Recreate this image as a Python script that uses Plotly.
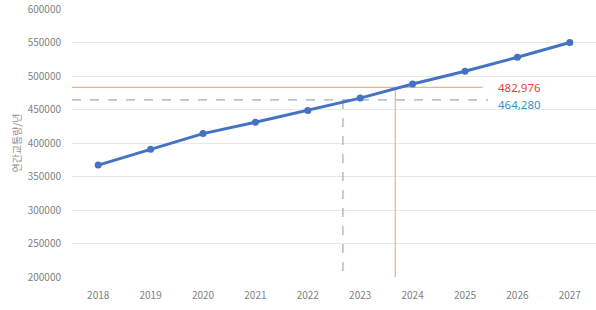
import plotly.graph_objects as go

years = [2018, 2019, 2020, 2021, 2022, 2023, 2024, 2025, 2026, 2027]
volumes = [367000, 390500, 414000, 431000, 448500, 467000, 488000, 507000, 528000, 550000]

ref_values = [482976, 464280]
ref_labels = ["482,976", "464,280"]
ref_cross_years = [2023.67, 2022.67]
ref_line_end = [2025.34, 2025.44]
ref_colors = ["#f4b183", "#9aaac4"]
ref_text_colors = ["#e8413c", "#3d8fcc"]
ref_dash = ["solid", "dash"]

y_title = "연간교통량/년"
y_ticks = [200000, 250000, 300000, 350000, 400000, 450000, 500000, 550000, 600000]

fig = go.Figure()

for v, cx, xe, c, d in zip(ref_values, ref_cross_years, ref_line_end, ref_colors, ref_dash):
    fig.add_trace(go.Scatter(x=[2017.5, xe], y=[v, v], mode="lines",
                             line=dict(color=c, width=1.2, dash=d), hoverinfo="skip", showlegend=False))
    fig.add_trace(go.Scatter(x=[cx, cx], y=[v, 200000], mode="lines",
                             line=dict(color=c, width=1.2, dash=d), hoverinfo="skip", showlegend=False))

fig.add_trace(go.Scatter(x=years, y=volumes, mode="lines+markers",
                         line=dict(color="#4472c4", width=3),
                         marker=dict(color="#4472c4", size=7), showlegend=False))

for v, lab, tc, yshift in zip(ref_values, ref_labels, ref_text_colors, [0, -5]):
    fig.add_annotation(x=2025.6, y=v, text=lab, showarrow=False, xanchor="left",
                       yanchor="middle", yshift=yshift,
                       font=dict(color=tc, size=11.5, family="Noto Sans, sans-serif"))

fig.update_layout(
    width=596, height=310,
    margin=dict(l=72, r=0, t=9, b=33),
    paper_bgcolor="white", plot_bgcolor="white",
    font=dict(family="Noto Sans CJK KR, Noto Sans, sans-serif", color="#808080", size=10),
)
fig.update_xaxes(range=[2017.5, 2027.5], tickvals=years, ticktext=[str(y) for y in years],
                 showgrid=False, zeroline=False, showline=False,
                 ticks="outside", ticklen=9, tickcolor="rgba(0,0,0,0)",
                 tickfont=dict(size=10, color="#7f7f7f"))
fig.update_yaxes(range=[200000, 600000], tickvals=y_ticks, tickformat="d",
                 showgrid=True, gridcolor="#e8e8e8", gridwidth=1, zeroline=False,
                 ticks="outside", ticklen=8, tickcolor="rgba(0,0,0,0)",
                 ticklabeloverflow="allow",
                 tickfont=dict(size=10, color="#7f7f7f"),
                 title=dict(text=y_title, font=dict(size=10, color="#909090"), standoff=4))

fig.write_html("out.html")
